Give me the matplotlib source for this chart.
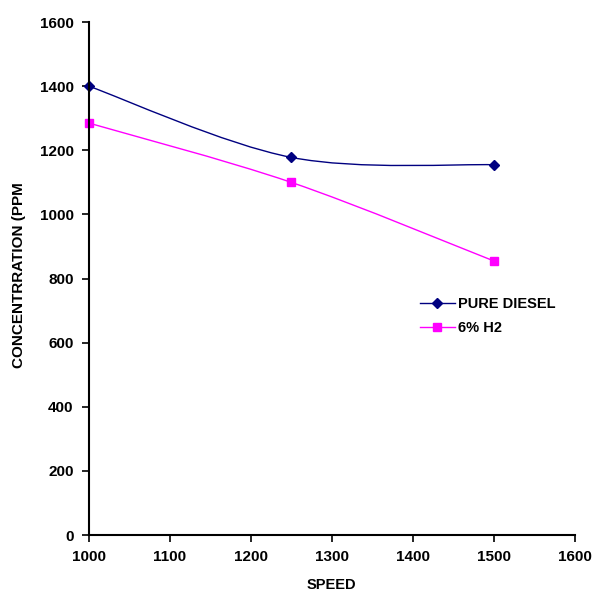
import numpy as np
import matplotlib.pyplot as plt
from matplotlib.path import Path
from matplotlib.patches import PathPatch, Rectangle

speed = [1000, 1250, 1500]
pure_diesel = [1400, 1178, 1155]
h2_6 = [1285, 1100, 855]
x_ticks = [1000, 1100, 1200, 1300, 1400, 1500, 1600]
y_ticks = [0, 200, 400, 600, 800, 1000, 1200, 1400, 1600]

plt.rcParams['font.family'] = ['Liberation Sans', 'DejaVu Sans']
plt.rcParams['font.weight'] = 'bold'


def smooth_path(x, y):
    # excel style smoothed line: cubic bezier segments through the points
    pts = np.column_stack([x, y]).astype(float)
    ext = np.vstack([pts[0], pts, pts[-1]])
    verts = [pts[0]]
    codes = [Path.MOVETO]
    for i in range(1, len(ext) - 2):
        p0, p1, p2, p3 = ext[i - 1], ext[i], ext[i + 1], ext[i + 2]
        verts += [p1 + (p2 - p0) / 6, p2 - (p3 - p1) / 6, p2]
        codes += [Path.CURVE4] * 3
    return Path(verts, codes)


fig = plt.figure(figsize=(5.95, 5.95), dpi=100)
ax = fig.add_axes([0.1496, 0.1008, 0.8164, 0.862])

ax.add_patch(PathPatch(smooth_path(speed, pure_diesel), fill=False, edgecolor='#000080', lw=1.0))
ax.add_patch(PathPatch(smooth_path(speed, h2_6), fill=False, edgecolor='#FF00FF', lw=1.0))
ax.plot(speed, pure_diesel, ls='none', marker='D', ms=5.5, color='#000080', clip_on=False)
ax.plot(speed, h2_6, ls='none', marker='s', ms=5.5, color='#FF00FF', clip_on=False)

# legend proxies
h1, = ax.plot([], [], color='#000080', marker='D', ms=5.5, lw=1.0, label='PURE DIESEL')
h2, = ax.plot([], [], color='#FF00FF', marker='s', ms=5.5, lw=1.0, label='6% H2')
ax.legend(handles=[h1, h2], loc='upper left', bbox_to_anchor=(0.654, 0.49),
          frameon=False, fontsize=10.5, handlelength=2.4, handletextpad=0.2,
          labelspacing=0.7)

ax.set_xlim(1000, 1600)
ax.set_ylim(0, 1600)
ax.set_xticks(x_ticks)
ax.set_yticks(y_ticks)
ax.tick_params(direction='out', length=5, width=1.2, labelsize=11, pad=6)
for s in ['top', 'right']:
    ax.spines[s].set_visible(False)
for s in ['left', 'bottom']:
    ax.spines[s].set_linewidth(1.5)

ax.set_xlabel('SPEED', fontsize=10.5, fontweight='bold', labelpad=10)

# y label is cut off at the top in the original
fig.text(19.5 / 595, 1 - 272.5 / 595, 'CONCENTRRATION (PPM)', rotation=90,
         fontsize=11, fontweight='bold', ha='center', va='center', zorder=1)
fig.add_artist(Rectangle((0, 1 - 183 / 595), 36 / 595, 183 / 595,
                         transform=fig.transFigure, facecolor='white',
                         edgecolor='none', zorder=2))

fig.savefig('out.png', dpi=100)
